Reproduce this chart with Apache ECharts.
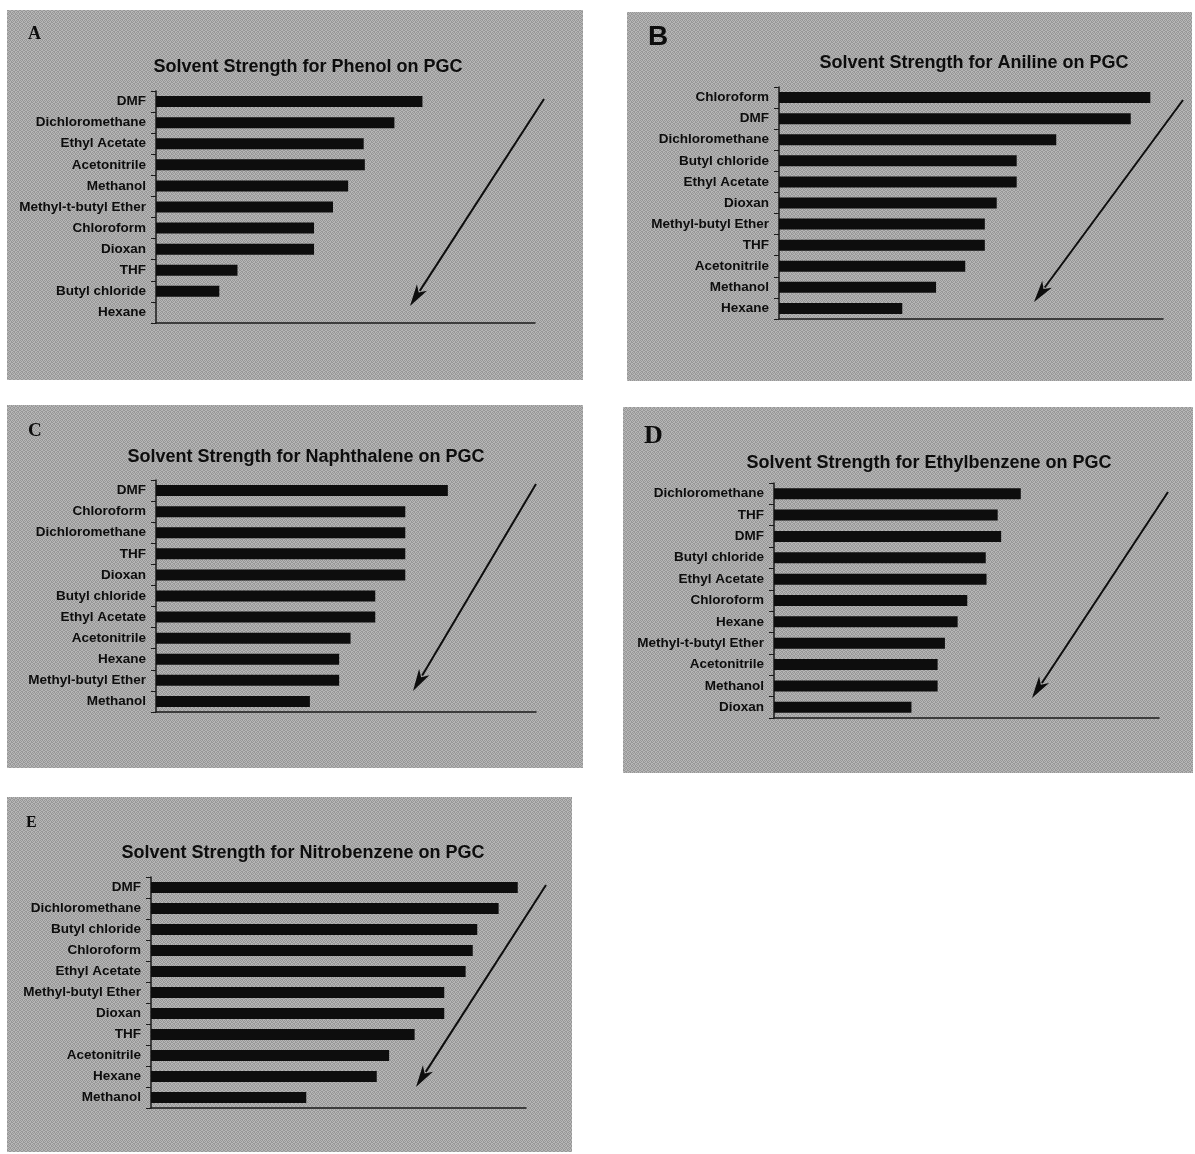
<!DOCTYPE html>
<html>
<head>
<meta charset="utf-8">
<script src="https://cdn.jsdelivr.net/npm/echarts@6/dist/echarts.min.js"></script>
<style>
html,body{margin:0;padding:0;background:#fff;}
#c{width:1195px;height:1154px;}
</style>
</head>
<body>
<div id="c"></div>
<script>
// ---- Data (bar length as % of the drawn axis length) ----
const titleA = 'Solvent Strength for Phenol on PGC';
const catsA = ['DMF','Dichloromethane','Ethyl Acetate','Acetonitrile','Methanol','Methyl-t-butyl Ether','Chloroform','Dioxan','THF','Butyl chloride','Hexane'];
const valsA = [70.3, 62.9, 54.8, 55.1, 50.7, 46.7, 41.7, 41.7, 21.5, 16.7, 0];

const titleB = 'Solvent Strength for Aniline on PGC';
const catsB = ['Chloroform','DMF','Dichloromethane','Butyl chloride','Ethyl Acetate','Dioxan','Methyl-butyl Ether','THF','Acetonitrile','Methanol','Hexane'];
const valsB = [96.7, 91.6, 72.2, 61.9, 61.9, 56.7, 53.6, 53.6, 48.5, 40.9, 32.1];

const titleC = 'Solvent Strength for Naphthalene on PGC';
const catsC = ['DMF','Chloroform','Dichloromethane','THF','Dioxan','Butyl chloride','Ethyl Acetate','Acetonitrile','Hexane','Methyl-butyl Ether','Methanol'];
const valsC = [76.8, 65.6, 65.6, 65.6, 65.6, 57.7, 57.7, 51.2, 48.2, 48.2, 40.5];

const titleD = 'Solvent Strength for Ethylbenzene on PGC';
const catsD = ['Dichloromethane','THF','DMF','Butyl chloride','Ethyl Acetate','Chloroform','Hexane','Methyl-t-butyl Ether','Acetonitrile','Methanol','Dioxan'];
const valsD = [64.1, 58.1, 59.0, 55.0, 55.2, 50.2, 47.7, 44.4, 42.5, 42.5, 35.7];

const titleE = 'Solvent Strength for Nitrobenzene on PGC';
const catsE = ['DMF','Dichloromethane','Butyl chloride','Chloroform','Ethyl Acetate','Methyl-butyl Ether','Dioxan','THF','Acetonitrile','Hexane','Methanol'];
const valsE = [97.8, 92.7, 87.0, 85.8, 83.9, 78.2, 78.2, 70.3, 63.5, 60.2, 41.4];

const panelLetters = ['A','B','C','D','E'];

// ---- Layout ----
const panels = [
  {title:titleA, cats:catsA, vals:valsA, rect:[7,10,576,370],  grid:[156,91,379,232],  tc:[303,62],  lt:{x:28,y:34,font:'bold 18px "Liberation Serif", serif'}, arrow:[544,99,410,306]},
  {title:titleB, cats:catsB, vals:valsB, rect:[627,12,565,369], grid:[779,87,384,232],  tc:[969,58],  lt:{x:648,y:37,font:'bold 28px "Liberation Sans", Arial, sans-serif'}, arrow:[1183,100,1034,302]},
  {title:titleC, cats:catsC, vals:valsC, rect:[7,405,576,363], grid:[156,480,380,232], tc:[301,452], lt:{x:28,y:431,font:'bold 19px "Liberation Serif", serif'}, arrow:[536,484,413,691]},
  {title:titleD, cats:catsD, vals:valsD, rect:[623,407,570,366],grid:[774,483,385,235], tc:[924,458], lt:{x:644,y:436,font:'bold 26px "Liberation Serif", serif'}, arrow:[1168,492,1032,698]},
  {title:titleE, cats:catsE, vals:valsE, rect:[7,797,565,355], grid:[151,877,375,231], tc:[298,848], lt:{x:26,y:823,font:'bold 16px "Liberation Serif", serif'}, arrow:[546,885,416,1087]}
];

const labelFont = '"Liberation Sans", Arial, sans-serif';
const titleFont = '"Liberation Sans", Arial, sans-serif';
const ink = '#0d0d0d';

// halftone-like paper texture (fixed 2x2 dither tile)
function paperPattern(){
  const c = document.createElement('canvas');
  c.width = 4; c.height = 4;
  const g = c.getContext('2d');
  g.fillStyle = '#b6b6b6'; g.fillRect(0,0,4,4);
  g.fillStyle = '#979797';
  g.fillRect(0,0,1,1); g.fillRect(2,0,1,1); g.fillRect(1,1,1,1); g.fillRect(3,2,1,1);
  g.fillRect(0,2,1,1); g.fillRect(1,3,1,1); g.fillRect(3,1,1,1); g.fillRect(2,3,1,1);
  return {image:c, repeat:'repeat'};
}
const paper = paperPattern();

function arrowGraphics(a){
  const [x1,y1,x2,y2] = a;
  const dx = x2-x1, dy = y2-y1, L = Math.hypot(dx,dy);
  const ux = dx/L, uy = dy/L, px = -uy, py = ux;
  const hl = 22, hw = 6;
  const bx = x2 - ux*hl, by = y2 - uy*hl;
  return [
    {type:'line', silent:true, z:10, shape:{x1:x1,y1:y1,x2:bx+ux*4,y2:by+uy*4}, style:{stroke:ink, lineWidth:2}},
    {type:'polygon', silent:true, z:10, shape:{points:[[x2,y2],[bx+px*hw,by+py*hw],[bx+ux*6,by+uy*6],[bx-px*hw,by-py*hw]]}, style:{fill:ink}}
  ];
}

const graphic = [];
const grids = [], xAxes = [], yAxes = [], series = [], titles = [];
panels.forEach((p,i)=>{
  graphic.push({type:'rect', silent:true, z:-10, shape:{x:p.rect[0],y:p.rect[1],width:p.rect[2],height:p.rect[3]}, style:{fill:paper}});
  graphic.push({type:'text', silent:true, z:10, x:p.lt.x, y:p.lt.y, style:{text:panelLetters[i], font:p.lt.font, fill:ink, textVerticalAlign:'middle'}});
  arrowGraphics(p.arrow).forEach(g=>graphic.push(g));
  titles.push({text:p.title, left:p.tc[0], top:p.tc[1], textAlign:'center', textVerticalAlign:'middle',
    textStyle:{fontFamily:titleFont, fontWeight:'bold', fontSize:18, color:ink}});
  grids.push({left:p.grid[0], top:p.grid[1], width:p.grid[2], height:p.grid[3], containLabel:false, outerBoundsMode:'none'});
  xAxes.push({type:'value', gridIndex:i, min:0, max:100, position:'bottom',
    axisLine:{show:true, onZero:false, lineStyle:{color:'#1a1a1a', width:1.5}},
    axisTick:{show:false}, axisLabel:{show:false}, splitLine:{show:false}});
  yAxes.push({type:'category', gridIndex:i, inverse:true, data:p.cats,
    axisLine:{show:true, lineStyle:{color:'#1a1a1a', width:1.5}},
    axisTick:{show:true, length:5, lineStyle:{color:'#1a1a1a', width:1}},
    axisLabel:{fontFamily:labelFont, fontWeight:'bold', fontSize:13.5, color:ink, margin:10},
    splitLine:{show:false}});
  series.push({type:'bar', xAxisIndex:i, yAxisIndex:i, data:p.vals, barWidth:11, silent:true,
    itemStyle:{color:ink}, animation:false});
});

const chart = echarts.init(document.getElementById('c'), null, {renderer:'canvas'});
chart.setOption({
  backgroundColor:'#ffffff',
  animation:false,
  title:titles,
  grid:grids,
  xAxis:xAxes,
  yAxis:yAxes,
  series:series,
  graphic:graphic
});
</script>
</body>
</html>
